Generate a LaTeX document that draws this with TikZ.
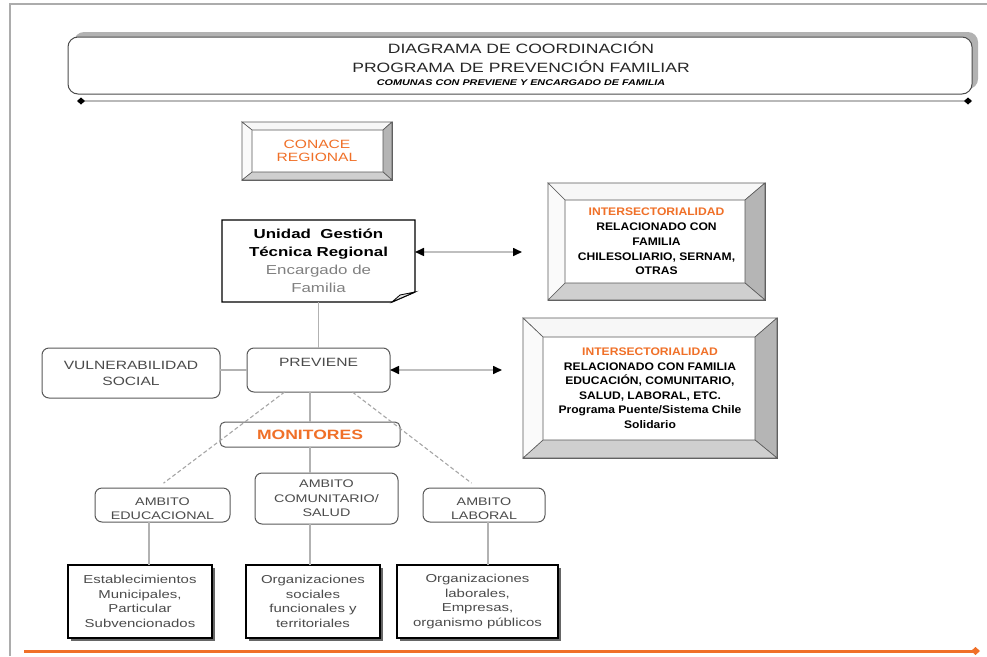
\documentclass[tikz,border=0pt]{standalone}
\usepackage{fontspec}
\setmainfont{Liberation Sans}[FakeStretch=1.3]
\newfontfamily\intfont{Liberation Sans}[FakeStretch=1.1]
\usetikzlibrary{arrows.meta,calc,shadows}
\definecolor{corange}{RGB}{240,112,40}
\definecolor{tgray}{RGB}{75,75,75}
\newcommand{\fsz}[2]{\fontsize{#1}{#2}\selectfont}
\newcommand{\bevelfr}[5]{%
  \coordinate (#1-a) at ($(#1.north west)+(#5,#2)$);
  \coordinate (#1-b) at ($(#1.north east)+(-#3,#2)$);
  \coordinate (#1-c) at ($(#1.south east)+(-#3,-#4)$);
  \coordinate (#1-d) at ($(#1.south west)+(#5,-#4)$);
  \filldraw[bevline, fill=gray!6] (#1.north west) -- (#1.north east) -- (#1-b) -- (#1-a) -- cycle;
  \filldraw[bevline, fill=gray!58] (#1.north east) -- (#1.south east) -- (#1-c) -- (#1-b) -- cycle;
  \filldraw[bevline, fill=gray!38] (#1.south east) -- (#1.south west) -- (#1-d) -- (#1-c) -- cycle;
  \filldraw[bevline, fill=gray!4] (#1.south west) -- (#1.north west) -- (#1-a) -- (#1-d) -- cycle;
}
\begin{document}
\begin{tikzpicture}[x=1pt,y=-1pt,
  rbox/.style={draw=gray!70!black, line width=1pt, rounded corners=7pt, fill=white, inner sep=0pt, outer sep=0pt, align=center, text=tgray},
  bevbox/.style={draw=gray!70!black, line width=0.8pt, fill=white, inner sep=0pt, outer sep=0pt, align=center},
  bevline/.style={draw=gray!70!black, line width=0.6pt},
  orgbox/.style={draw=black, line width=1.6pt, fill=white, inner sep=0pt, outer sep=0pt, align=center, text=tgray, drop shadow={shadow xshift=2.5pt, shadow yshift=-2.5pt, fill=gray!80!black, opacity=1}},
  titlebox/.style={draw=gray!60!black, line width=1pt, rounded corners=10pt, fill=white, inner sep=0pt, outer sep=0pt, drop shadow={shadow xshift=6pt, shadow yshift=5pt, fill=gray!60, opacity=1}},
  txt/.style={align=center, inner sep=0pt, text=tgray},
  conn/.style={draw=gray!60, line width=1.3pt},
  dconn/.style={draw=gray!70, line width=1.1pt, dash pattern=on 4pt off 2.5pt, shorten >=8pt},
  biarrow/.style={draw=gray!50, line width=1.6pt, arrows={Triangle[color=black,length=9pt,width=8pt]-Triangle[color=black,length=9pt,width=8pt]}}
]
\useasboundingbox (0,0) rectangle (987,656);

% outer frame
\draw[gray!65, line width=2.5pt] (10,656) -- (10,4) -- (987,4);

% title
\node[titlebox, minimum width=904pt, minimum height=57pt] (title) at (520,65.5) {};
\node[txt, text=black!85, font=\fsz{13.5}{16}] (t1) at (521,48) {DIAGRAMA DE COORDINACIÓN};
\node[txt, text=black!85, font=\fsz{13.5}{16}] (t2) at (521,67) {PROGRAMA DE PREVENCIÓN FAMILIAR};
\node[txt, text=black, font=\fsz{8.3}{10}\bfseries\itshape] (t3) at (521,83) {COMUNAS CON PREVIENE Y ENCARGADO DE FAMILIA};
\coordinate (dl) at (77,101);
\coordinate (dr) at (972,101);
\draw[gray!55, line width=2pt, arrows={Diamond[color=black,length=8pt,width=7pt]-Diamond[color=black,length=8pt,width=7pt]}] (dl) -- (dr);

% CONACE
\node[bevbox, minimum width=150pt, minimum height=58pt, text=corange, font=\fsz{12}{13}] (conace) at (317,151) {CONACE\\REGIONAL};
\bevelfr{conace}{8}{9}{8}{10}

% Unidad Gestion
\node[inner sep=0pt, outer sep=0pt, minimum width=193pt, minimum height=82pt, align=center, font=\fsz{13}{18}] (ugt) at (318.5,261) {\textbf{Unidad\ \ Gestión}\\\textbf{Técnica Regional}\\\textcolor{gray}{Encargado de}\\\textcolor{gray}{Familia}};
\draw[black, line width=1.3pt] (ugt.north west) -- (ugt.north east) -- ($(ugt.south east)+(0,-10)$) -- ($(ugt.south east)+(-23,0)$) -- (ugt.south west) -- cycle;
\filldraw[fill=gray!20, draw=black, line width=0.8pt] ($(ugt.south east)+(-23,0)$) -- ($(ugt.south east)+(-15,-7)$) -- ($(ugt.south east)+(0,-10)$) -- cycle;

% Intersectorialidad boxes
\node[bevbox, minimum width=217pt, minimum height=117pt, font=\intfont\fsz{11}{14.8}\bfseries] (ia) at (656.5,241.5) {\textcolor{corange}{INTERSECTORIALIDAD}\\RELACIONADO CON\\FAMILIA\\CHILESOLIARIO, SERNAM,\\OTRAS};
\bevelfr{ia}{17}{20}{17}{17}
\node[bevbox, minimum width=254pt, minimum height=140pt, font=\intfont\fsz{11}{14.5}\bfseries] (ib) at (650,388) {\textcolor{corange}{INTERSECTORIALIDAD}\\RELACIONADO CON FAMILIA\\EDUCACIÓN, COMUNITARIO,\\SALUD, LABORAL, ETC.\\Programa Puente/Sistema Chile\\Solidario};
\bevelfr{ib}{19}{22}{18}{20}

% middle row
\node[rbox, minimum width=178pt, minimum height=50pt, font=\fsz{12}{16}] (vul) at (131,373) {VULNERABILIDAD\\SOCIAL};
\node[rbox, minimum width=143pt, minimum height=44pt, font=\fsz{12}{16}, text height=8.6pt, text depth=16pt] (prev) at (318.5,370) {PREVIENE};
\node[rbox, rounded corners=5pt, minimum width=180pt, minimum height=25pt, text=corange, font=\fsz{13.5}{15}\bfseries] (mon) at (310,434.5) {MONITORES};

% ambitos
\node[rbox, minimum width=135pt, minimum height=34pt] (edu) at (162.5,505) {};
\node[txt, font=\fsz{11}{13.5}] (edu-t) at (162.5,508.5) {AMBITO\\EDUCACIONAL};
\node[rbox, minimum width=143pt, minimum height=51pt, font=\fsz{11}{14.5}] (com) at (326.5,498.5) {AMBITO\\COMUNITARIO/\\SALUD};
\node[rbox, minimum width=122pt, minimum height=34pt] (lab) at (484,505) {};
\node[txt, font=\fsz{11}{13.5}] (lab-t) at (484,508.5) {AMBITO\\LABORAL};

% bottom boxes
\node[orgbox, minimum width=144pt, minimum height=73pt, font=\fsz{11.5}{14.5}] (b1) at (140,601.5) {Establecimientos\\Municipales,\\Particular\\Subvencionados};
\node[orgbox, minimum width=134pt, minimum height=73pt, font=\fsz{11.5}{14.5}] (b2) at (313,601.5) {Organizaciones\\sociales\\funcionales y\\territoriales};
\node[orgbox, minimum width=161pt, minimum height=73pt, font=\fsz{11.5}{14.5}] (b3) at (477.5,601.5) {Organizaciones\\laborales,\\Empresas,\\organismo públicos};

% connectors
\draw[conn] (ugt.south) -- (prev.north);
\draw[conn] (prev.west) -- (prev.west -| vul.east);
\draw[conn] (mon.north) -- (mon.north |- prev.south);
\draw[conn] (mon.south) -- (mon.south |- com.north);
\draw[dconn] (prev.213) -- ($(edu.north west)!0.46!(edu.north east)$);
\draw[dconn] (prev.327) -- ($(lab.north west)!0.45!(lab.north east)$);
\coordinate (edu-s) at ($(edu.south)+(-13.5,0)$);
\draw[conn] (edu-s) -- (edu-s |- b1.north);
\draw[conn] (mon.south |- com.south) -- (mon.south |- b2.north);
\coordinate (lab-s) at ($(lab.south)+(4,0)$);
\draw[conn] (lab-s) -- (lab-s |- b3.north);

\coordinate (a1) at (522,252);
\draw[biarrow] ($(ugt.north east)!0.39!(ugt.south east)$) -- (a1);
\coordinate (a2) at (502,370);
\draw[biarrow] (prev.east) -- (a2);

% bottom orange line
\coordinate (ol) at (24,651);
\coordinate (or) at (980,651);
\draw[corange, line width=3pt, arrows={-Diamond[length=9pt,width=8pt]}] (ol) -- (or);
\end{tikzpicture}
\end{document}
